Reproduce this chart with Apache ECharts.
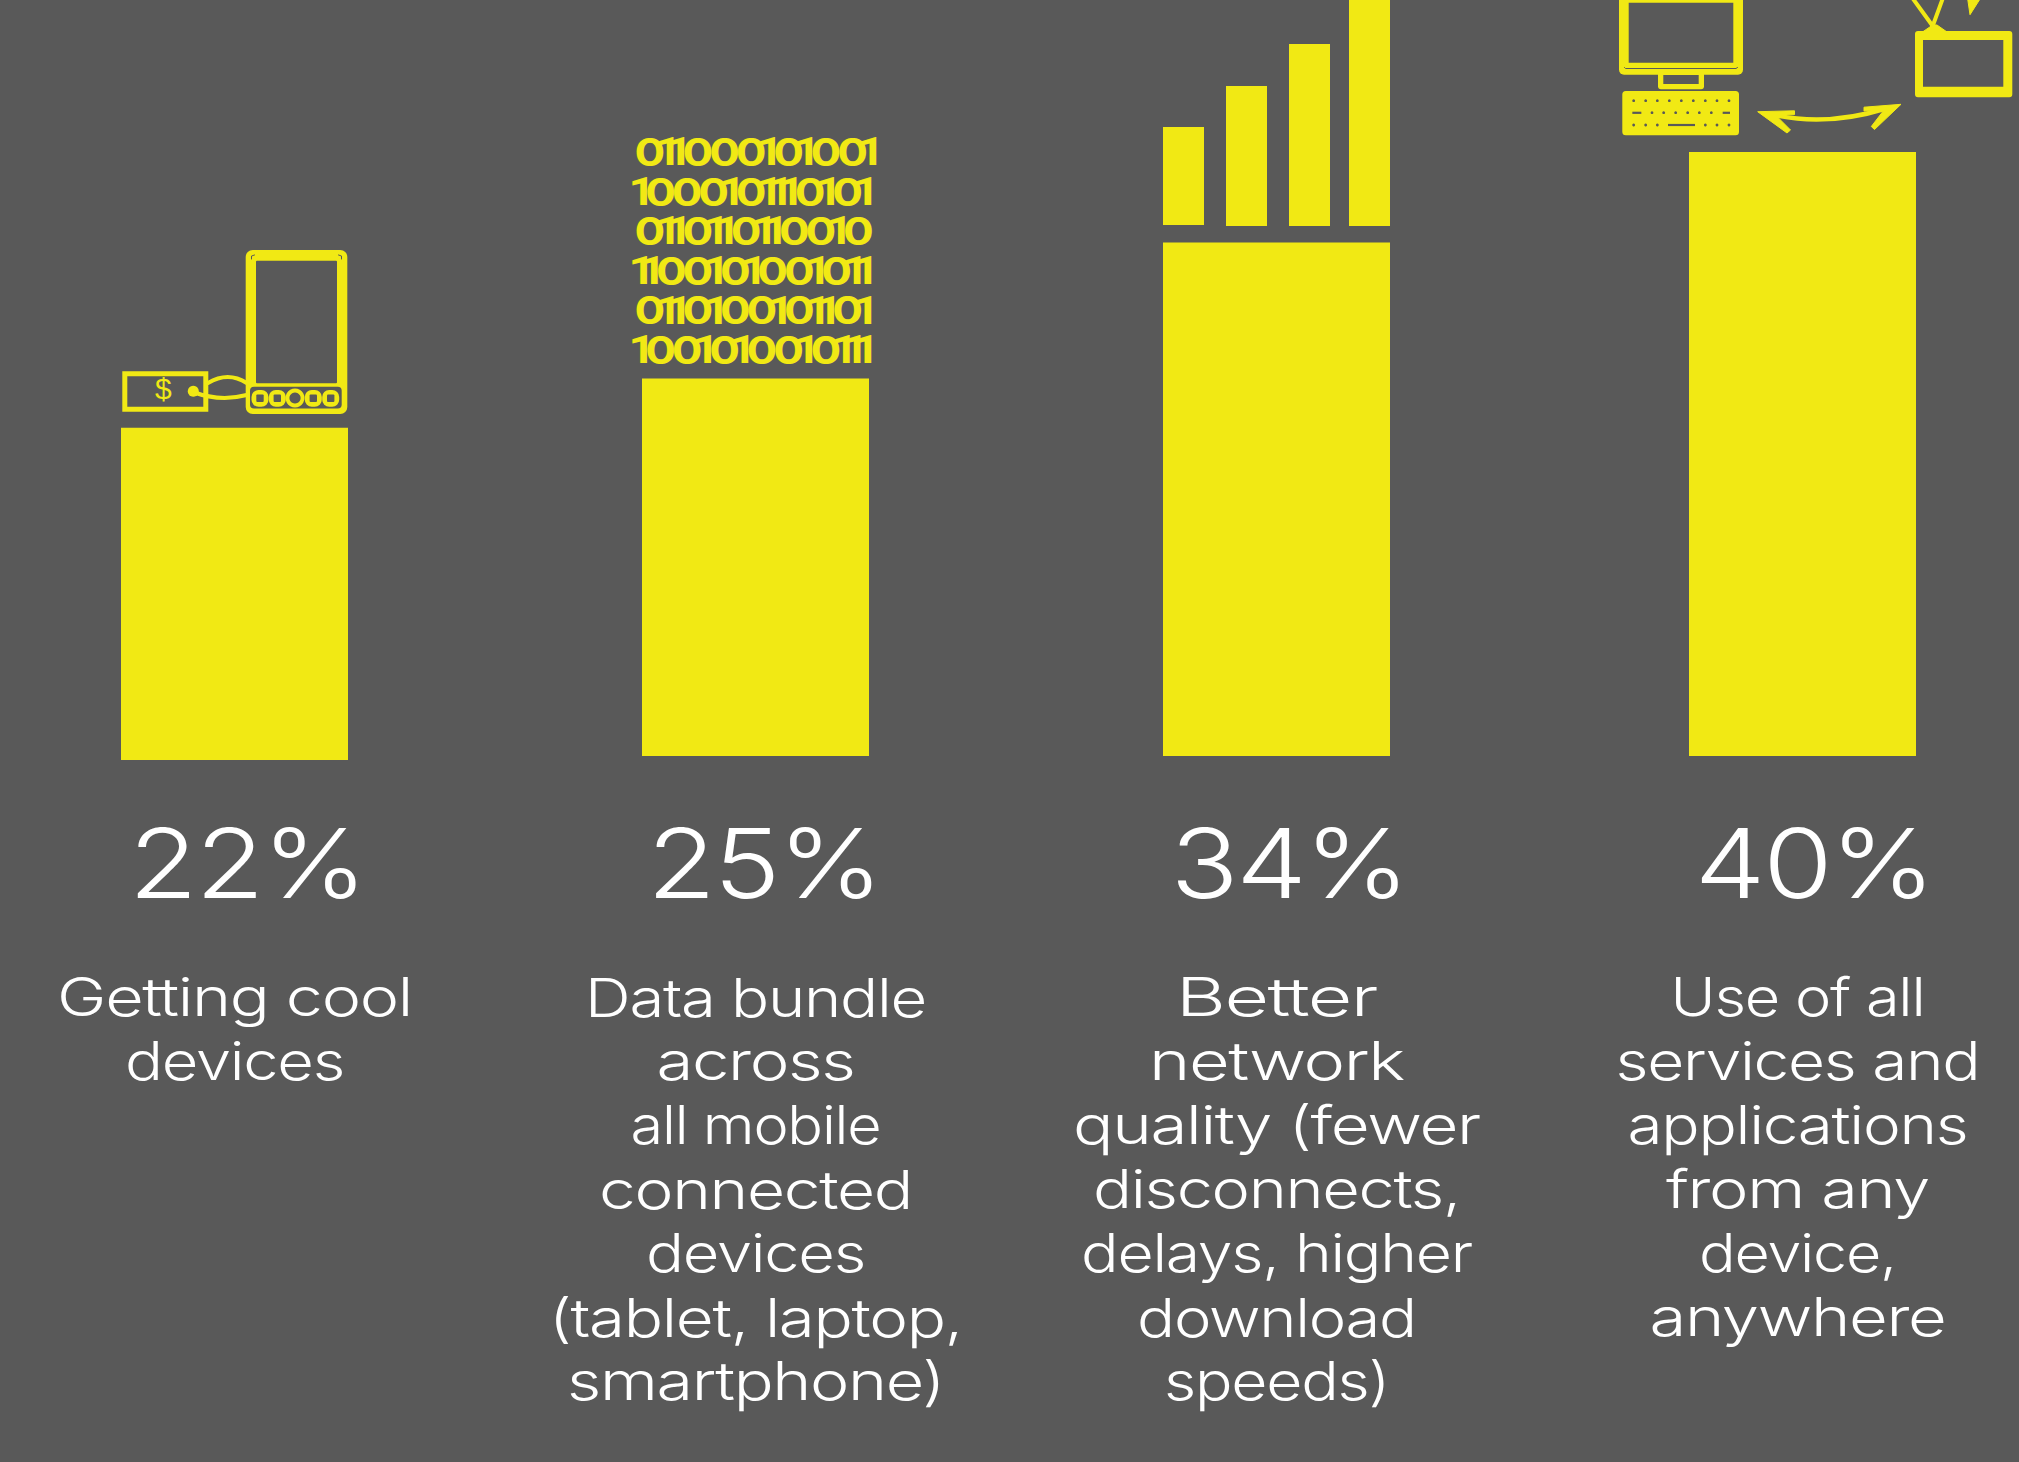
<!DOCTYPE html>
<html>
<head>
<meta charset="utf-8">
<style>
html,body{margin:0;padding:0;background:#595959}
#c{width:2019px;height:1462px}
#c svg text{letter-spacing:-0.02em}
</style>
<script src="https://cdn.jsdelivr.net/npm/echarts@6/dist/echarts.min.js"></script>
</head>
<body>
<div id="c"></div>
<script>
// Survey figures: share of respondents per mobile-service wish
const categories = ['Getting cool devices', 'Data bundle across all mobile connected devices', 'Better network quality', 'Use of all services and applications'];
const values = [22, 25, 34, 40];
const descriptions = [
  ['Getting cool', 'devices'],
  ['Data bundle', 'across', 'all mobile', 'connected', 'devices', '(tablet, laptop,', 'smartphone)'],
  ['Better', 'network', 'quality (fewer', 'disconnects,', 'delays, higher', 'download', 'speeds)'],
  ['Use of all', 'services and', 'applications', 'from any', 'device,', 'anywhere']
];
// Set width of each caption line, in pixels
const descriptionWidths = [
  [355, 219],
  [341, 198, 250, 313, 219, 413, 377],
  [203, 255, 407, 367, 391, 279, 225],
  [254, 364, 340, 263, 197, 296]
];
const binaryRows = ['011000101001', '1000101110101', '0110110110010', '1100101001011', '0110100101101', '1001010010111'];
const keyboardRow1 = [101, 137, 172, 208, 244, 280, 316, 351, 387];
const keyboardRow2 = [156, 191, 227, 263, 298, 334];
const keyboardRow3 = [101, 137, 172, 316, 351, 387];

const YELLOW = '#f1e914', BG = '#595959', WHITE = '#ffffff';
const barLeft = [121, 642, 1163, 1689];
const barBase = [760, 756, 756, 756];
const BAR_W = 227, PX_PER_PCT = 15.1, AXIS_MAX = 50;
const valueX = [247, 764, 1289, 1814];
const textX = [234.5, 755.5, 1276.5, 1797.5];

const chart = echarts.init(document.getElementById('c'), null, { renderer: 'svg' });

const rect = (x0, y0, x1, y1, fill, r) => ({ type: 'rect', shape: { x: x0, y: y0, width: x1 - x0, height: y1 - y0, r: r || 0 }, style: { fill } });
const circle = (cx, cy, r, fill) => ({ type: 'circle', shape: { cx, cy, r }, style: { fill } });
const line = (pts, width, color) => ({ type: 'polyline', shape: { points: pts }, style: { stroke: color || YELLOW, lineWidth: width, fill: null, lineCap: 'round', lineJoin: 'round' } });
const curve = (x1, y1, cx, cy, x2, y2, width) => ({ type: 'bezierCurve', shape: { x1, y1, cpx1: cx, cpy1: cy, x2, y2 }, style: { stroke: YELLOW, lineWidth: width, fill: null, lineCap: 'round' } });
const poly = (pts) => ({ type: 'polygon', shape: { points: pts }, style: { fill: YELLOW, stroke: YELLOW, lineWidth: 1, lineJoin: 'round' } });

// Phone with price tag above the first bar
const buttonX = [260, 277.3, 313.3, 330.7];
const phoneIcon = [
  rect(245.7, 250, 347.3, 414, YELLOW, 7),
  rect(256, 260.7, 337, 383.3, BG, 1),
  rect(250, 386.7, 341.7, 408.5, BG, 4),
  ...buttonX.map(x => rect(x - 8.5, 390, x + 8.5, 406.7, YELLOW, 7)),
  line([[251.5, 259], [251.5, 256], [254.5, 255]], 1, BG),
  line([[341.5, 259], [341.5, 256], [338.5, 255]], 1, BG),
  ...buttonX.map(x => rect(x - 3.7, 394.6, x + 3.7, 402, BG, 1)),
  circle(295, 398, 9.5, YELLOW),
  circle(295, 398, 5.6, BG),
  { type: 'rect', shape: { x: 124.8, y: 373.8, width: 81, height: 35.4 }, style: { fill: null, stroke: YELLOW, lineWidth: 5 } },
  { type: 'text', x: 163, y: 373, style: { text: '$', fill: YELLOW, font: '400 30px "Liberation Sans"', textAlign: 'center' } },
  curve(208, 383, 228, 371, 246.7, 383, 4),
  curve(193, 392, 220, 402, 246.7, 395, 4),
  circle(193.3, 391.3, 5.5, YELLOW)
];

// Four rising signal bars above the third bar
const signalIcon = [
  rect(1163, 127, 1204, 225, YELLOW),
  rect(1226, 86, 1267, 226, YELLOW),
  rect(1289, 44, 1330, 226, YELLOW),
  rect(1349, 0, 1390, 226, YELLOW)
];

// Desktop computer, arrow and TV above the fourth bar
const kx = v => 1600 + v / 3;
const deviceIcon = [
  rect(1619, -10, 1743, 74.7, YELLOW, 5),
  rect(1628.7, 2.7, 1733.3, 62.7, BG),
  line([[1624.5, 67.5], [1625.5, 68.5], [1736, 68.5], [1737.5, 67.5]], 1, BG),
  rect(1658, 70, 1704, 89.3, YELLOW, 3),
  rect(1663.3, 75, 1698.7, 84, BG),
  rect(1622.3, 91, 1739, 135.3, YELLOW, 3.5),
  ...keyboardRow1.map(v => circle(kx(v), 100.7, 1.4, BG)),
  ...keyboardRow2.map(v => circle(kx(v), 112.7, 1.4, BG)),
  ...keyboardRow3.map(v => circle(kx(v), 125, 1.4, BG)),
  rect(kx(97), 111.7, kx(124), 113.9, BG),
  rect(kx(368), 111.7, kx(390), 113.9, BG),
  rect(kx(204), 123.9, kx(285), 126.1, BG),
  curve(1772, 114.5, 1826, 127, 1886, 108.5, 4.5),
  poly([[1757.7, 111.7], [1794.5, 110.8], [1794.5, 114.6], [1776, 115.5], [1790.5, 130], [1787, 133], [1757.7, 111.7]]),
  poly([[1901, 104.3], [1864, 107.2], [1864, 111], [1884, 110], [1871.3, 126.5], [1874.5, 129.5], [1901, 104.3]]),
  rect(1915, 31, 2012.3, 97.3, YELLOW, 3),
  rect(1923, 40, 2003.3, 86.7, BG),
  line([[1911.7, -3], [1932.7, 26], [1943.3, -3]], 4, YELLOW),
  poly([[1922.5, 32], [1932.7, 25], [1937, 25], [1947, 32]]),
  poly([[1967.7, -1], [1980, -1], [1970, 14.7]])
];

// Binary digits above the second bar: round zeros with narrow ones
const BIN_SCALE = 1.2;
const zeroStyle = { width: 26.6 / BIN_SCALE, align: 'center', fontFamily: 'Inter', fontWeight: 700, fontSize: 38, fill: YELLOW, lineHeight: 46 };
const oneStyle = { width: 10.8 / BIN_SCALE, align: 'center', fontFamily: 'Roboto', fontWeight: 700, fontSize: 39, fill: YELLOW, lineHeight: 46 };
const binaryText = binaryRows.map((row, i) => ({
  type: 'text', x: 636, y: 129 + i * 39.6, scaleX: BIN_SCALE,
  style: {
    text: row.split('').map(d => (d === '0' ? '{z|0}' : '{o|1}')).join(''),
    rich: { z: zeroStyle, o: oneStyle },
    fill: YELLOW, textAlign: 'left'
  }
}));

const valueText = values.map((v, i) => ({
  type: 'text', x: valueX[i], y: 815, scaleX: 1.17,
  style: { text: v + '%', fill: WHITE, font: '330 96px Inter', textAlign: 'center' }
}));

// Captions are stretched horizontally to their set width
const DESC_FONT = '360 53px Inter';
const measureCtx = document.createElement('canvas').getContext('2d');
measureCtx.font = DESC_FONT;
const fitScale = (txt, width) => {
  const natural = measureCtx.measureText(txt).width - 0.02 * 53 * txt.length;
  return Math.min(1.45, Math.max(1.1, width / natural));
};
const descText = descriptions.flatMap((lines, i) => lines.map((txt, j) => ({
  type: 'text', x: textX[i], y: 970.5 + j * 64, scaleX: fitScale(txt, descriptionWidths[i][j]),
  style: { text: txt, fill: WHITE, font: DESC_FONT, textAlign: 'center' }
})));

chart.setOption({
  animation: false,
  backgroundColor: BG,
  grid: values.map((_, i) => ({ left: barLeft[i], width: BAR_W, top: barBase[i] - AXIS_MAX * PX_PER_PCT, height: AXIS_MAX * PX_PER_PCT })),
  xAxis: values.map((_, i) => ({ type: 'category', gridIndex: i, data: [categories[i]], show: false })),
  yAxis: values.map((_, i) => ({ type: 'value', gridIndex: i, min: 0, max: AXIS_MAX, show: false })),
  series: values.map((v, i) => ({
    type: 'bar', xAxisIndex: i, yAxisIndex: i, data: [v], barWidth: '100%',
    itemStyle: { color: YELLOW }, silent: true
  })),
  graphic: { elements: [...phoneIcon, ...signalIcon, ...deviceIcon, ...binaryText, ...valueText, ...descText] }
});
</script>
</body>
</html>
